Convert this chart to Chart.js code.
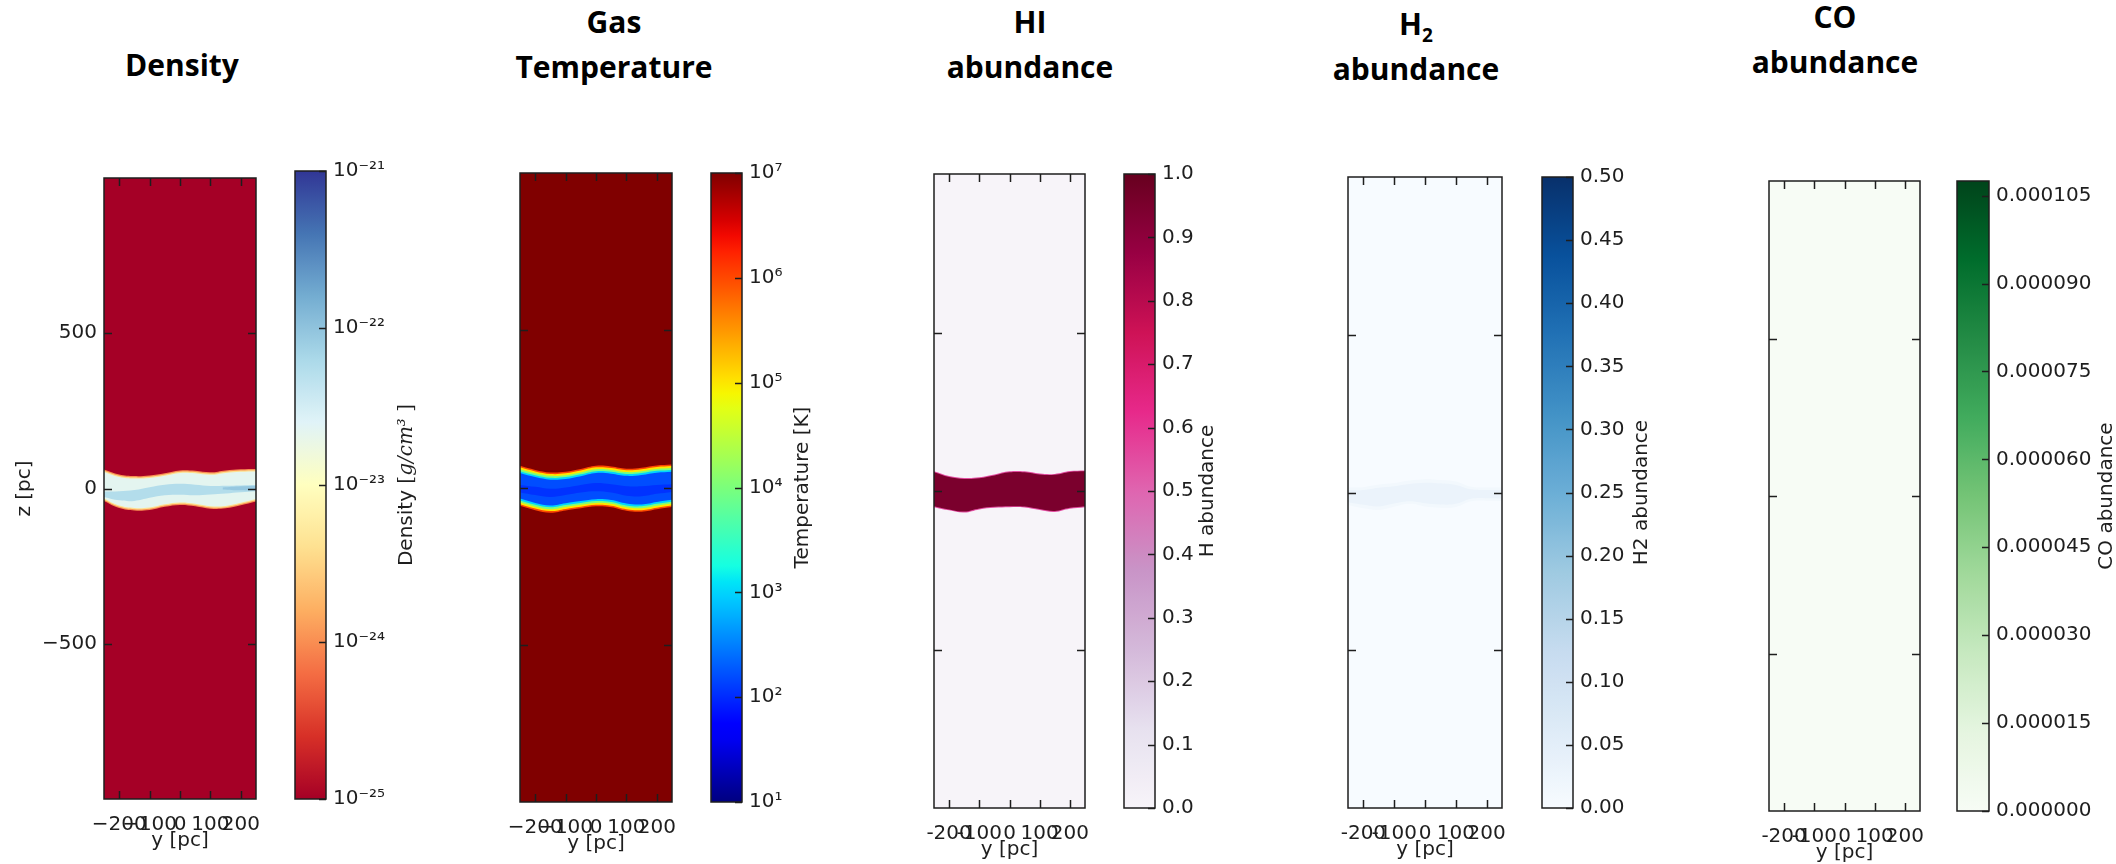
<!DOCTYPE html>
<html>
<head>
<meta charset="utf-8">
<script src="https://cdn.jsdelivr.net/npm/chart.js@4.4.1/dist/chart.umd.min.js"></script>
<style>
  body { margin: 0; background: #fff; overflow: hidden; }
  #fig { position: relative; width: 2116px; height: 864px; background: #fff; overflow: hidden; }
  #fig canvas { position: absolute; }
  .ttl { position: absolute; font: 700 30px 'Open Sans', sans-serif; color: #000; text-align: center;
         line-height: 45px; transform: translateX(-50%); white-space: nowrap; }
  .ttl sub { font-size: 19px; line-height: 0; vertical-align: -7px; }
</style>
</head>
<body>
<div id="fig"></div>
<script>
// ---- data: slice through the disc, y in pc (columns), z in pc (rows)
const ySamples = [-250, -200, -150, -100, -50, 0, 50, 100, 150, 200, 250];
const yTicks = [-200, -100, 0, 100, 200];
const zTicks = [-500, 0, 500];

// Density [g/cm^3]
const densBg = 1e-25;
const densVals = [1e-24, 4e-24, 2.2e-23, 5.5e-23, 9e-23];
const densRimTop = [61, 45, 40, 42, 49, 58, 57, 52, 58, 62, 63];
const densRimBot = [-40, -63, -71, -69, -59, -53, -57, -65, -64, -54, -42];
const densWarmTop = [57, 41, 36, 38, 45, 54, 53, 48, 54, 58, 59];
const densWarmBot = [-36, -59, -67, -65, -55, -49, -53, -61, -60, -50, -38];
const densCoolTop = [53, 37, 32, 34, 41, 50, 49, 44, 50, 54, 55];
const densCoolBot = [-32, -55, -63, -61, -51, -45, -49, -57, -56, -46, -34];
const densStreakTop = [-10, -9, -5, 4, 12, 15, 12, 8, 9, 10, 11];
const densStreakBot = [-27, -38, -40, -30, -22, -20, -22, -19, -16, -12, -9];
const densCoreY = [140, 200, 250];
const densCoreTop = [3, 7, 8];
const densCoreBot = [-3, -6, -6];
const densTicks = [1e-25, 1e-24, 1e-23, 1e-22, 1e-21];

// Gas temperature [K]
const tempBg = 1e7;
const tempVals = [1e6, 1e5, 1e4, 1e3, 160, 110];
const tempRedTop = [69, 56, 48, 50, 59, 69, 67, 60, 63, 70, 73];
const tempRedBot = [-58, -72, -80, -73, -66, -60, -63, -74, -77, -69, -62];
const tempYelTop = [64, 51, 43, 45, 54, 64, 62, 55, 58, 65, 68];
const tempYelBot = [-53, -67, -75, -68, -61, -55, -58, -69, -72, -64, -57];
const tempGrnTop = [58, 45, 37, 39, 48, 58, 56, 49, 52, 59, 62];
const tempGrnBot = [-47, -61, -69, -62, -55, -49, -52, -63, -66, -58, -51];
const tempCyanTop = [52, 39, 31, 33, 42, 52, 50, 43, 46, 53, 56];
const tempCyanBot = [-41, -55, -63, -56, -49, -43, -46, -57, -60, -52, -45];
const tempBlueTop = [46, 33, 25, 27, 36, 46, 44, 37, 40, 47, 50];
const tempBlueBot = [-35, -49, -57, -50, -43, -37, -40, -51, -54, -46, -39];
const tempCoreTop = [8, 2, -4, 0, 8, 14, 10, 4, 4, 8, 10];
const tempCoreBot = [-16, -24, -30, -24, -16, -12, -16, -26, -28, -20, -14];
const tempTicks = [1e1, 1e2, 1e3, 1e4, 1e5, 1e6, 1e7];

// HI abundance
const hiBg = 0.0;
const hiVals = [0.55, 0.95];
const hiRimTop = [62, 47, 41, 43, 52, 62, 62, 55, 54, 63, 65];
const hiRimBot = [-51, -61, -68, -58, -53, -51, -52, -60, -66, -56, -51];
const hiCoreTop = [59, 44, 38, 40, 49, 59, 59, 52, 51, 60, 62];
const hiCoreBot = [-48, -58, -65, -55, -50, -48, -49, -57, -63, -53, -48];
const hiTicks = [0.0, 0.1, 0.2, 0.3, 0.4, 0.5, 0.6, 0.7, 0.8, 0.9, 1.0];

// H2 abundance
const h2Bg = 0.0;
const h2Vals = [0.012, 0.03];
const h2OuterTop = [16, 17, 25, 30, 38, 42, 40, 35, 18, 16, 16];
const h2OuterBot = [-40, -50, -55, -45, -36, -44, -48, -46, -28, -26, -27];
const h2InnerTop = [8, 8, 15, 20, 27, 31, 29, 24, 10, 8, 8];
const h2InnerBot = [-31, -39, -44, -35, -28, -34, -38, -36, -20, -18, -19];
const h2Ticks = [0.00, 0.05, 0.10, 0.15, 0.20, 0.25, 0.30, 0.35, 0.40, 0.45, 0.50];

// CO abundance
const coBg = 0.0;
const coMax = 0.0001075;
const coTicks = [0.000000, 0.000015, 0.000030, 0.000045, 0.000060, 0.000075, 0.000090, 0.000105];

// ---- colour maps
function hexRgb(h) { return [1, 3, 5].map(i => parseInt(h.slice(i, i + 2), 16)); }
function ramp(hexes) {
  const c = hexes.map(hexRgb);
  return t => {
    t = Math.min(1, Math.max(0, t)) * (c.length - 1);
    const i = Math.min(c.length - 2, Math.floor(t)), f = t - i;
    const m = c[i].map((v, k) => Math.round(v + (c[i + 1][k] - v) * f));
    return `rgb(${m[0]},${m[1]},${m[2]})`;
  };
}
function piece(pts, t) {
  for (let i = 1; i < pts.length; i++) {
    if (t <= pts[i][0]) {
      const [x0, y0] = pts[i - 1], [x1, y1] = pts[i];
      return y0 + (y1 - y0) * (t - x0) / (x1 - x0);
    }
  }
  return pts[pts.length - 1][1];
}
function jet(t) {
  t = Math.min(1, Math.max(0, t));
  const r = piece([[0, 0], [0.35, 0], [0.66, 1], [0.89, 1], [1, 0.5]], t);
  const g = piece([[0, 0], [0.125, 0], [0.375, 1], [0.64, 1], [0.91, 0], [1, 0]], t);
  const b = piece([[0, 0.5], [0.11, 1], [0.34, 1], [0.65, 0], [1, 0]], t);
  return `rgb(${Math.round(r * 255)},${Math.round(g * 255)},${Math.round(b * 255)})`;
}
const rdylbu = ramp(['#a50026', '#d73027', '#f46d43', '#fdae61', '#fee090', '#ffffbf', '#e0f3f8', '#abd9e9', '#74add1', '#4575b4', '#313695']);
const purd = ramp(['#f7f4f9', '#e7e1ef', '#d4b9da', '#c994c7', '#df65b0', '#e7298a', '#ce1256', '#980043', '#67001f']);
const blues = ramp(['#f7fbff', '#deebf7', '#c6dbef', '#9ecae1', '#6baed6', '#4292c6', '#2171b5', '#08519c', '#08306b']);
const greens = ramp(['#f7fcf5', '#e5f5e0', '#c7e9c0', '#a1d99b', '#74c476', '#41ab5d', '#238b45', '#006d2c', '#00441b']);

// ---- helpers
const FONT = 'DejaVu Sans';
const INK = '#1e1e1e';
const SUP = { '0': '⁰', '1': '¹', '2': '²', '3': '³', '4': '⁴', '5': '⁵', '6': '⁶', '7': '⁷', '8': '⁸', '9': '⁹', '-': '⁻' };
const logFmt = v => '10' + String(Math.round(Math.log10(v))).split('').map(ch => SUP[ch]).join('');

const framePlugin = {
  id: 'frame',
  afterDatasetsDraw(chart, args, o) {
    if (!o.color) return;
    const { ctx, chartArea: a, scales } = chart;
    ctx.save();
    ctx.strokeStyle = o.color;
    ctx.lineWidth = o.width;
    ctx.beginPath();
    (o.xTicks || []).forEach(v => {
      const px = Math.round(scales.x.getPixelForValue(v)) + 0.5;
      ctx.moveTo(px, a.top); ctx.lineTo(px, a.top + o.len);
      ctx.moveTo(px, a.bottom); ctx.lineTo(px, a.bottom - o.len);
    });
    (o.yTicks || []).forEach(v => {
      const py = Math.round(scales.y.getPixelForValue(v)) + 0.5;
      if (o.left) { ctx.moveTo(a.left, py); ctx.lineTo(a.left + o.len, py); }
      ctx.moveTo(a.right, py); ctx.lineTo(a.right - o.len, py);
    });
    ctx.stroke();
    ctx.strokeRect(a.left, a.top, a.right - a.left, a.bottom - a.top);
    ctx.restore();
  }
};
const cbLabelPlugin = {
  id: 'cbLabel',
  afterDraw(chart, args, o) {
    if (!o.parts) return;
    const { ctx, chartArea: a } = chart;
    ctx.save();
    ctx.translate(a.right + o.offset, (a.top + a.bottom) / 2);
    ctx.rotate(-Math.PI / 2);
    ctx.fillStyle = INK;
    ctx.textBaseline = 'middle';
    ctx.textAlign = 'left';
    let total = 0;
    o.parts.forEach(p => { ctx.font = p.font; total += ctx.measureText(p.text).width; });
    let x = -total / 2;
    o.parts.forEach(p => { ctx.font = p.font; ctx.fillText(p.text, x, 0); x += ctx.measureText(p.text).width; });
    ctx.restore();
  }
};
Chart.register(framePlugin, cbLabelPlugin);

const fig = document.getElementById('fig');
function addCanvas(left, top, w, h) {
  const c = document.createElement('canvas');
  c.width = w; c.height = h;
  c.style.left = left + 'px'; c.style.top = top + 'px';
  c.style.width = w + 'px'; c.style.height = h + 'px';
  fig.appendChild(c);
  return c;
}

function makePlot(box, color, bg, layers, showZ) {
  const L = 104, T = 12, R = 12, B = 70;
  const w = box.r - box.l, h = box.b - box.t;
  const cv = addCanvas(box.l - L, box.t - T, L + w + R, T + h + B);
  const base = { borderColor: 'transparent', borderWidth: 0, pointRadius: 0, tension: 0.4 };
  const datasets = [Object.assign({}, base, {
    data: [{ x: -250, y: 1000 }, { x: 250, y: 1000 }], fill: 'start', backgroundColor: color(bg), order: 100
  })];
  layers.forEach((ly, k) => {
    datasets.push(Object.assign({}, base, {
      data: ly.xs.map((x, i) => ({ x, y: ly.top[i] })), fill: '+1', backgroundColor: color(ly.v), order: 50 - k
    }));
    datasets.push(Object.assign({}, base, {
      data: ly.xs.map((x, i) => ({ x, y: ly.bot[i] })), fill: false, order: 50 - k
    }));
  });
  new Chart(cv, {
    type: 'line',
    data: { datasets },
    options: {
      responsive: false, animation: false, events: [],
      layout: { autoPadding: false, padding: { top: T, right: R, left: 0, bottom: 0 } },
      plugins: {
        legend: { display: false }, tooltip: { enabled: false },
        frame: { color: INK, width: 1.5, len: 8, xTicks: yTicks, yTicks: zTicks, left: true }
      },
      scales: {
        x: {
          type: 'linear', min: -250, max: 250,
          afterBuildTicks: s => { s.ticks = yTicks.map(v => ({ value: v })); },
          afterFit: s => { s.height = B; },
          grid: { display: false }, border: { display: false },
          ticks: { autoSkip: false, maxRotation: 0, padding: 6, color: INK, font: { family: FONT, size: 20 },
                   callback: v => String(v).replace('-', box.minus) },
          title: { display: true, text: 'y [pc]', color: INK, font: { family: FONT, size: 20 }, padding: { top: 0, bottom: 16 } }
        },
        y: {
          type: 'linear', min: -1000, max: 1000,
          afterBuildTicks: s => { s.ticks = zTicks.map(v => ({ value: v })); },
          afterFit: s => { s.width = L; },
          grid: { display: false, drawTicks: false }, border: { display: false },
          ticks: { display: showZ, padding: 7, color: INK, font: { family: FONT, size: 20 },
                   callback: v => String(v).replace('-', '−') },
          title: { display: showZ, text: 'z [pc]', color: INK, font: { family: FONT, size: 20 }, padding: { top: 13, bottom: 0 } }
        }
      }
    }
  });
}

function makeColorbar(box, color, cb) {
  const T = 20, B = 20, Lp = 8, R = 200;
  const w = box.cbr - box.cbl, h = box.b - box.t;
  const cv = addCanvas(box.cbl - Lp, box.t - T, Lp + w + R, T + h + B);
  const grad = ctx => {
    const a = ctx.chart.chartArea;
    if (!a) return 'transparent';
    const g = ctx.chart.ctx.createLinearGradient(0, a.bottom, 0, a.top);
    for (let i = 0; i <= 40; i++) g.addColorStop(i / 40, color(i / 40));
    return g;
  };
  new Chart(cv, {
    type: 'bar',
    data: { labels: [''], datasets: [{ data: [[cb.min, cb.max]], backgroundColor: grad, borderWidth: 0,
                                       barPercentage: 1, categoryPercentage: 1 }] },
    options: {
      responsive: false, animation: false, events: [],
      layout: { autoPadding: false, padding: { top: T, bottom: B, left: Lp, right: 0 } },
      plugins: {
        legend: { display: false }, tooltip: { enabled: false },
        frame: { color: INK, width: 1.5, len: 7, yTicks: cb.ticks, left: false },
        cbLabel: { parts: cb.parts, offset: box.lab }
      },
      scales: {
        x: { display: false },
        y: {
          type: cb.type, position: 'right', min: cb.min, max: cb.max,
          afterBuildTicks: s => { s.ticks = cb.ticks.map(v => ({ value: v })); },
          afterFit: s => { s.width = R; },
          grid: { display: false, drawTicks: false }, border: { display: false },
          ticks: { padding: 7, color: INK, font: { family: FONT, size: 20 }, callback: v => cb.fmt(v) }
        }
      }
    }
  });
}

// ---- layout of the five panels (pixel boxes)
const boxes = [
  { l: 104, r: 256, t: 171, b: 799, cbl: 295, cbr: 326, lab: 81, minus: '−' },
  { l: 520, r: 672, t: 173, b: 802, cbl: 711, cbr: 742, lab: 61, minus: '−' },
  { l: 934, r: 1085, t: 174, b: 808, cbl: 1124, cbr: 1155, lab: 53, minus: '-' },
  { l: 1348, r: 1502, t: 177, b: 808, cbl: 1542, cbr: 1573, lab: 69, minus: '-' },
  { l: 1769, r: 1920, t: 181, b: 811, cbl: 1957, cbr: 1989, lab: 118, minus: '-' }
];

const densColor = v => rdylbu((Math.log10(v) + 25) / 4);
const tempColor = v => jet((Math.log10(v) - 1) / 6);
const hiColor = v => purd(v);
const h2Color = v => blues(v / 0.5);
const coColor = v => greens(v / coMax);

makePlot(boxes[0], densColor, densBg, [
  { v: densVals[0], xs: ySamples, top: densRimTop, bot: densRimBot },
  { v: densVals[1], xs: ySamples, top: densWarmTop, bot: densWarmBot },
  { v: densVals[2], xs: ySamples, top: densCoolTop, bot: densCoolBot },
  { v: densVals[3], xs: ySamples, top: densStreakTop, bot: densStreakBot },
  { v: densVals[4], xs: densCoreY, top: densCoreTop, bot: densCoreBot }
], true);
makeColorbar(boxes[0], rdylbu, { type: 'logarithmic', min: 1e-25, max: 1e-21, ticks: densTicks, fmt: logFmt,
  parts: [{ text: 'Density ', font: `20px ${FONT}` }, { text: '[', font: '20px DejaVu Serif' },
          { text: 'g/cm³', font: 'italic 20px DejaVu Serif' }, { text: ' ]', font: '20px DejaVu Serif' }] });

makePlot(boxes[1], tempColor, tempBg, [
  { v: tempVals[0], xs: ySamples, top: tempRedTop, bot: tempRedBot },
  { v: tempVals[1], xs: ySamples, top: tempYelTop, bot: tempYelBot },
  { v: tempVals[2], xs: ySamples, top: tempGrnTop, bot: tempGrnBot },
  { v: tempVals[3], xs: ySamples, top: tempCyanTop, bot: tempCyanBot },
  { v: tempVals[4], xs: ySamples, top: tempBlueTop, bot: tempBlueBot },
  { v: tempVals[5], xs: ySamples, top: tempCoreTop, bot: tempCoreBot }
], false);
makeColorbar(boxes[1], jet, { type: 'logarithmic', min: 10, max: 1e7, ticks: tempTicks, fmt: logFmt,
  parts: [{ text: 'Temperature [K]', font: `20px ${FONT}` }] });

makePlot(boxes[2], hiColor, hiBg, [
  { v: hiVals[0], xs: ySamples, top: hiRimTop, bot: hiRimBot },
  { v: hiVals[1], xs: ySamples, top: hiCoreTop, bot: hiCoreBot }
], false);
makeColorbar(boxes[2], purd, { type: 'linear', min: 0, max: 1, ticks: hiTicks, fmt: v => v.toFixed(1),
  parts: [{ text: 'H abundance', font: `20px ${FONT}` }] });

makePlot(boxes[3], h2Color, h2Bg, [
  { v: h2Vals[0], xs: ySamples, top: h2OuterTop, bot: h2OuterBot },
  { v: h2Vals[1], xs: ySamples, top: h2InnerTop, bot: h2InnerBot }
], false);
makeColorbar(boxes[3], blues, { type: 'linear', min: 0, max: 0.5, ticks: h2Ticks, fmt: v => v.toFixed(2),
  parts: [{ text: 'H2 abundance', font: `20px ${FONT}` }] });

makePlot(boxes[4], coColor, coBg, [], false);
makeColorbar(boxes[4], greens, { type: 'linear', min: 0, max: coMax, ticks: coTicks, fmt: v => v.toFixed(6),
  parts: [{ text: 'CO abundance', font: `20px ${FONT}` }] });

// ---- panel headings
const headings = [
  { x: 182, top: 42, html: 'Density' },
  { x: 614, top: -1, html: 'Gas<br>Temperature' },
  { x: 1030, top: -1, html: 'HI<br>abundance' },
  { x: 1416, top: 1, html: 'H<sub>2</sub><br>abundance' },
  { x: 1835, top: -6, html: 'CO<br>abundance' }
];
headings.forEach(hd => {
  const d = document.createElement('div');
  d.className = 'ttl';
  d.style.left = hd.x + 'px';
  d.style.top = hd.top + 'px';
  d.innerHTML = hd.html;
  fig.appendChild(d);
});
</script>
</body>
</html>
